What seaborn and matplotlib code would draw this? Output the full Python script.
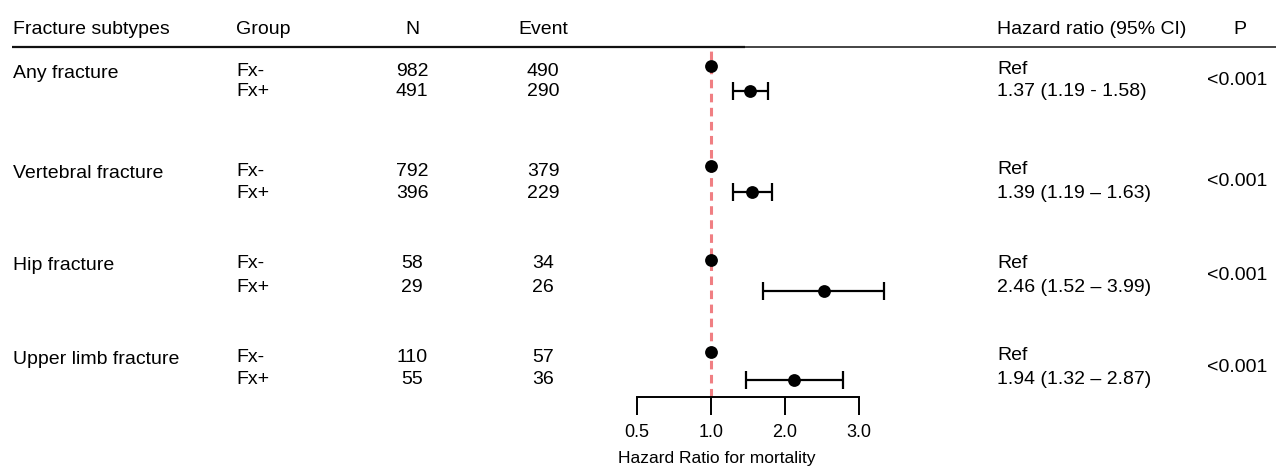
import numpy as np
import pandas as pd
import matplotlib
matplotlib.use("Agg")
import matplotlib.pyplot as plt
import seaborn as sns

# ---------------- data ----------------
subtypes = ["Any fracture", "Vertebral fracture", "Hip fracture", "Upper limb fracture"]
groups = ["Fx-", "Fx+"]
n_neg = [982, 792, 58, 110]
n_pos = [491, 396, 29, 55]
ev_neg = [490, 379, 34, 57]
ev_pos = [290, 229, 26, 36]
hr = [1.37, 1.39, 2.46, 1.94]
ci_lo = [1.19, 1.19, 1.52, 1.32]
ci_hi = [1.58, 1.63, 3.99, 2.87]
ci_sep = [" - ", " \u2013 ", " \u2013 ", " \u2013 "]
p_text = ["<0.001", "<0.001", "<0.001", "<0.001"]
ref_hr = 1.0
tick_labels = ["0.5", "1.0", "2.0", "3.0"]
headers = ["Fracture subtypes", "Group", "N", "Event", "Hazard ratio (95% CI)", "P"]

# ---------------- layout (pixels) ----------------
W, H = 1279, 466
y_neg = [66, 166, 260, 352]      # marker rows
y_pos = [91, 192, 291, 380]
t_neg = [71, 171, 264, 357]      # text rows
t_pos = [92, 193, 288, 380]
tick_vals = [0.553, 1.0, 1.808, 3.268]   # positions of the printed tick labels
FONT = ["Liberation Sans", "DejaVu Sans"]

sns.set_theme(style="white")
plt.rcParams["font.family"] = FONT
plt.rcParams["text.color"] = "black"
plt.rcParams["axes.labelcolor"] = "black"
plt.rcParams["xtick.color"] = "black"

fig = plt.figure(figsize=(W / 100, H / 100), dpi=100)
bg = fig.add_axes([0, 0, 1, 1])
bg.set_xlim(0, W)
bg.set_ylim(H, 0)
bg.axis("off")

fs = 14
col_x = {"sub": 13, "grp": 236, "n": 412, "ev": 543, "hr": 997, "p": 1237}

# header
hy = 29
bg.text(col_x["sub"], hy, headers[0], fontsize=fs, va="center", ha="left")
bg.text(col_x["grp"], hy, headers[1], fontsize=fs, va="center", ha="left")
bg.text(col_x["n"], hy, headers[2], fontsize=fs, va="center", ha="center")
bg.text(col_x["ev"], hy, headers[3], fontsize=fs, va="center", ha="center")
bg.text(col_x["hr"], hy, headers[4], fontsize=fs, va="center", ha="left")
bg.text(1240, hy, headers[5], fontsize=fs, va="center", ha="center")
bg.plot([12, 745], [47, 47], color="#111111", lw=1.6, solid_capstyle="butt")
bg.plot([745, 1276], [47, 47], color="#111111", lw=1.1, solid_capstyle="butt")

for i, s in enumerate(subtypes):
    tn, tp = t_neg[i], t_pos[i]
    bg.text(col_x["sub"], tn + 2, s, fontsize=fs, va="center", ha="left")
    bg.text(col_x["grp"], tn, groups[0], fontsize=fs, va="center", ha="left")
    bg.text(col_x["grp"], tp, groups[1], fontsize=fs, va="center", ha="left")
    bg.text(col_x["n"], tn, str(n_neg[i]), fontsize=fs, va="center", ha="center")
    bg.text(col_x["n"], tp, str(n_pos[i]), fontsize=fs, va="center", ha="center")
    bg.text(col_x["ev"], tn, str(ev_neg[i]), fontsize=fs, va="center", ha="center")
    bg.text(col_x["ev"], tp, str(ev_pos[i]), fontsize=fs, va="center", ha="center")
    bg.text(col_x["hr"], tn - 1, "Ref", fontsize=fs, va="center", ha="left")
    bg.text(col_x["hr"], tp,
            f"{hr[i]:.2f} ({ci_lo[i]:.2f}{ci_sep[i]}{ci_hi[i]:.2f})",
            fontsize=fs, va="center", ha="left")
    bg.text(col_x["p"], (tn + tp) / 2 - 1, p_text[i], fontsize=fs, va="center", ha="center")

# ---------------- forest axes ----------------
px0, px1 = 600, 940
ytop, ybot = 47, 397
b = 125.0
lo_lim = np.exp(-(711 - px0) / b)
hi_lim = np.exp((px1 - 711) / b)
ax = fig.add_axes([px0 / W, (H - ybot) / H, (px1 - px0) / W, (ybot - ytop) / H])
ax.set_facecolor("none")
ax.set_xscale("log")
ax.set_xlim(lo_lim, hi_lim)
ax.set_ylim(ybot, ytop)

ax.axvline(ref_hr, color="#f07f83", lw=2.2, linestyle=(0, (2.8, 1.8)), zorder=1)

df = pd.DataFrame({
    "hr": [ref_hr] * len(subtypes) + hr,
    "lo": [np.nan] * len(subtypes) + ci_lo,
    "hi": [np.nan] * len(subtypes) + ci_hi,
    "y": y_neg + y_pos,
})
ci = df.dropna()
ax.errorbar(ci["hr"], ci["y"], xerr=[ci["hr"] - ci["lo"], ci["hi"] - ci["hr"]],
            fmt="none", ecolor="black", elinewidth=1.6, capsize=6.5, capthick=1.6, zorder=2)
sns.scatterplot(data=df, x="hr", y="y", ax=ax, color="black", s=85,
                edgecolor="black", linewidth=0, zorder=3, legend=False)

for sp in ["top", "right", "left"]:
    ax.spines[sp].set_visible(False)
ax.spines["bottom"].set_color("black")
ax.spines["bottom"].set_linewidth(1.4)
ax.spines["bottom"].set_bounds(tick_vals[0], tick_vals[-1])
ax.set_yticks([])
ax.xaxis.set_major_locator(matplotlib.ticker.FixedLocator(tick_vals))
ax.xaxis.set_major_formatter(matplotlib.ticker.FixedFormatter(tick_labels))
ax.xaxis.set_minor_locator(matplotlib.ticker.NullLocator())
ax.tick_params(axis="x", direction="out", length=13, width=1.4, color="black",
               labelsize=13, pad=6.5, bottom=True, labelcolor="black")
ax.set_xlabel("Hazard Ratio for mortality", fontsize=12.5, color="black")
ax.xaxis.set_label_coords((717 - px0) / (px1 - px0), -(459 - ybot) / (ybot - ytop))
ax.xaxis.label.set_va("center")
ax.set_ylabel("")

fig.savefig("out.png", dpi=100)
